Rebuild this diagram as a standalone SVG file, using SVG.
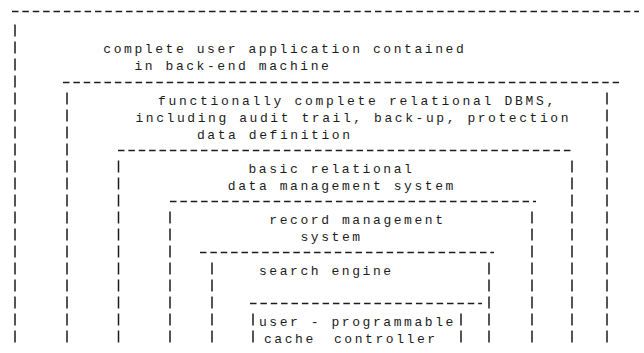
<svg xmlns="http://www.w3.org/2000/svg" width="644" height="353" viewBox="0 0 644 353">
<style>
.t{font-family:"Liberation Mono","DejaVu Sans Mono",monospace;font-size:13px;letter-spacing:2.57px;fill:#1c1c1c}
.h{stroke:#1c1c1c;stroke-width:1.6;stroke-dasharray:6.5 3.87;fill:none}
.v{stroke:#1c1c1c;stroke-width:1.5;stroke-dasharray:12 5;fill:none}
</style>
<rect width="644" height="353" fill="#ffffff"/>
<g id="layer-application">
<line class="h" x1="12" y1="11.5" x2="639" y2="11.5"/>
<line class="v" x1="15" y1="24.5" x2="15" y2="342.5"/>
<text class="t" x="103.3" y="53">complete user application contained</text>
<text class="t" x="134.4" y="70">in back-end machine</text>
</g>
<g id="layer-dbms">
<line class="h" x1="63" y1="82.5" x2="619" y2="82.5"/>
<line class="v" x1="67" y1="92.5" x2="67" y2="342.5"/>
<line class="v" x1="607" y1="92.5" x2="607" y2="342.5"/>
<text class="t" x="158" y="104.5" style="letter-spacing:2.7px">functionally complete relational DBMS,</text>
<text class="t" x="135.5" y="121.5">including audit trail, back-up, protection</text>
<text class="t" x="197" y="138.5">data definition</text>
</g>
<g id="layer-basic-dms">
<line class="h" x1="118" y1="150.5" x2="572" y2="150.5"/>
<line class="v" x1="118.5" y1="160.5" x2="118.5" y2="342.5"/>
<line class="v" x1="572" y1="160.5" x2="572" y2="342.5"/>
<text class="t" x="248.5" y="172.5">basic relational</text>
<text class="t" x="227.8" y="189.5">data management system</text>
</g>
<g id="layer-record-management">
<line class="h" x1="170" y1="201.5" x2="536" y2="201.5"/>
<line class="v" x1="170" y1="211.5" x2="170" y2="342.5"/>
<line class="v" x1="532" y1="211.5" x2="532" y2="342.5"/>
<text class="t" x="269.3" y="223.5">record management</text>
<text class="t" x="300.4" y="240.5">system</text>
</g>
<g id="layer-search-engine">
<line class="h" x1="200" y1="252.5" x2="494" y2="252.5"/>
<line class="v" x1="212" y1="262.5" x2="212" y2="342.5"/>
<line class="v" x1="489" y1="262.5" x2="489" y2="342.5"/>
<text class="t" x="258.9" y="274.5">search engine</text>
</g>
<g id="layer-cache-controller">
<line class="h" x1="250" y1="303.5" x2="482" y2="303.5"/>
<line class="v" x1="253" y1="313.5" x2="253" y2="342.5"/>
<line class="v" x1="461" y1="313.5" x2="461" y2="342.5"/>
<text class="t" x="258.9" y="325.5">user - programmable</text>
<text class="t" x="264" y="342.5">cache <tspan x="334">controller</tspan></text>
</g>
<g id="connectors"></g>
</svg>
